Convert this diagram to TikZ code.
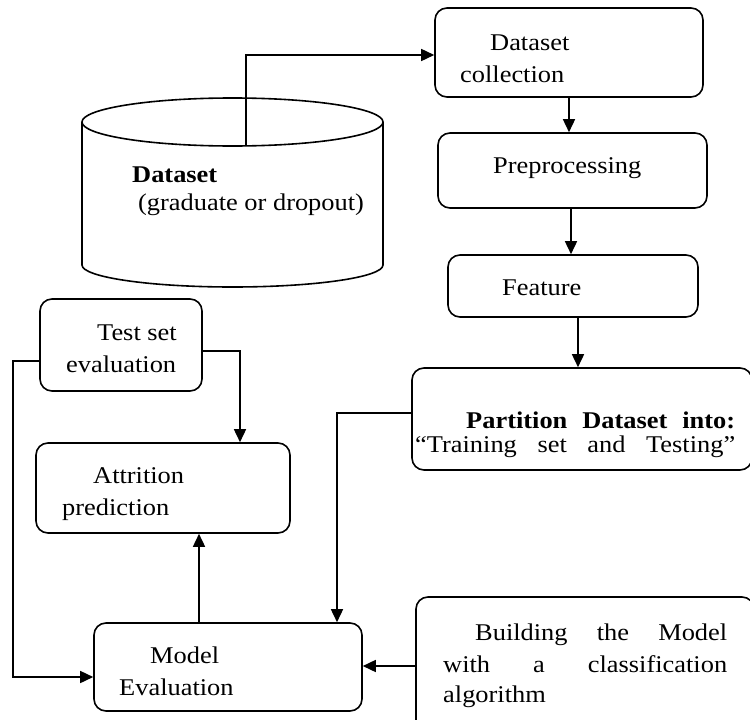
\documentclass[tikz,border=0pt]{standalone}
\usepackage{fontspec}
\setmainfont{Liberation Serif}[FakeStretch=1.1]
\usetikzlibrary{arrows.meta}
\tikzset{
  x=1pt,y=-1pt,
  box/.style={draw,line width=1.6pt,rounded corners=12pt,inner sep=0pt},
  txt/.style={anchor=base west,inner sep=0pt,font=\fontsize{24}{28}\selectfont},
  arr/.style={line width=1.6pt,-{Triangle[length=13pt,width=12pt]}},
  ln/.style={line width=1.6pt}
}
\begin{document}
\begin{tikzpicture}
\useasboundingbox (0,0) rectangle (750,720);
\clip (0,0) rectangle (750,720);
% cylinder
\draw[ln] (82,122) -- (82,265) arc[start angle=180,end angle=0,x radius=150.5,y radius=22] -- (383,122);
\draw[ln] (232.5,122) ellipse[x radius=150.5,y radius=24];
\coordinate (cyltop) at (246,146);
\node[txt] (cylt1) at (132,182) {\bfseries Dataset};
\node[txt] (cylt2) at (138,210) {(graduate or dropout)};
% boxes
\node[box,minimum width=268,minimum height=89] (dc) at (569,52.5) {};
\node[txt] (dct1) at (490,50) {Dataset};
\node[txt] (dct2) at (460,82) {collection};
\node[box,minimum width=269,minimum height=75] (pre) at (572.5,170.5) {};
\node[txt] (pret) at (493,173) {Preprocessing};
\node[box,minimum width=250,minimum height=62] (feat) at (573,286) {};
\node[txt] (featt) at (502,295) {Feature};
\node[box,minimum width=340,minimum height=102] (part) at (582,419) {};
\node[txt] (partt1) at (466,428) {\makebox[269pt][s]{\bfseries Partition Dataset into:}};
\node[txt] (partt2) at (415,452) {\makebox[320pt][s]{“Training set and Testing”}};
\node[box,minimum width=162,minimum height=92] (test) at (121,345) {};
\node[txt] (testt1) at (97,340) {Test set};
\node[txt] (testt2) at (66,372) {evaluation};
\node[box,minimum width=254,minimum height=90] (attr) at (163,488) {};
\node[txt] (attrt1) at (93,483) {Attrition};
\node[txt] (attrt2) at (62,515) {prediction};
\node[box,minimum width=268,minimum height=88] (model) at (228,667) {};
\node[txt] (modelt1) at (150,663) {Model};
\node[txt] (modelt2) at (119,695) {Evaluation};
\node[box,minimum width=338,minimum height=140] (build) at (585,667) {};
\node[txt] (buildt1) at (475,640) {\makebox[252pt][s]{Building the Model}};
\node[txt] (buildt2) at (443,672) {\makebox[284pt][s]{with a classification}};
\node[txt] (buildt3) at (443,702) {algorithm};
% connectors
\draw[arr] (cyltop) |- (dc.west |- 0,55);
\draw[arr] (569,0 |- dc.south) -- (569,0 |- pre.north);
\draw[arr] (571,0 |- pre.south) -- (571,0 |- feat.north);
\draw[arr] (578,0 |- feat.south) -- (578,0 |- part.north);
\draw[arr] (part.west |- 0,413) -| (337,0 |- model.north);
\draw[arr] (test.east |- 0,351) -| (240,0 |- attr.north);
\draw[arr] (test.west |- 0,361) -| (13,677) -- (model.west |- 0,677);
\draw[arr] (199,0 |- model.north) -- (199,0 |- attr.south);
\draw[arr] (build.west |- 0,666) -- (model.east |- 0,666);
\end{tikzpicture}
\end{document}
